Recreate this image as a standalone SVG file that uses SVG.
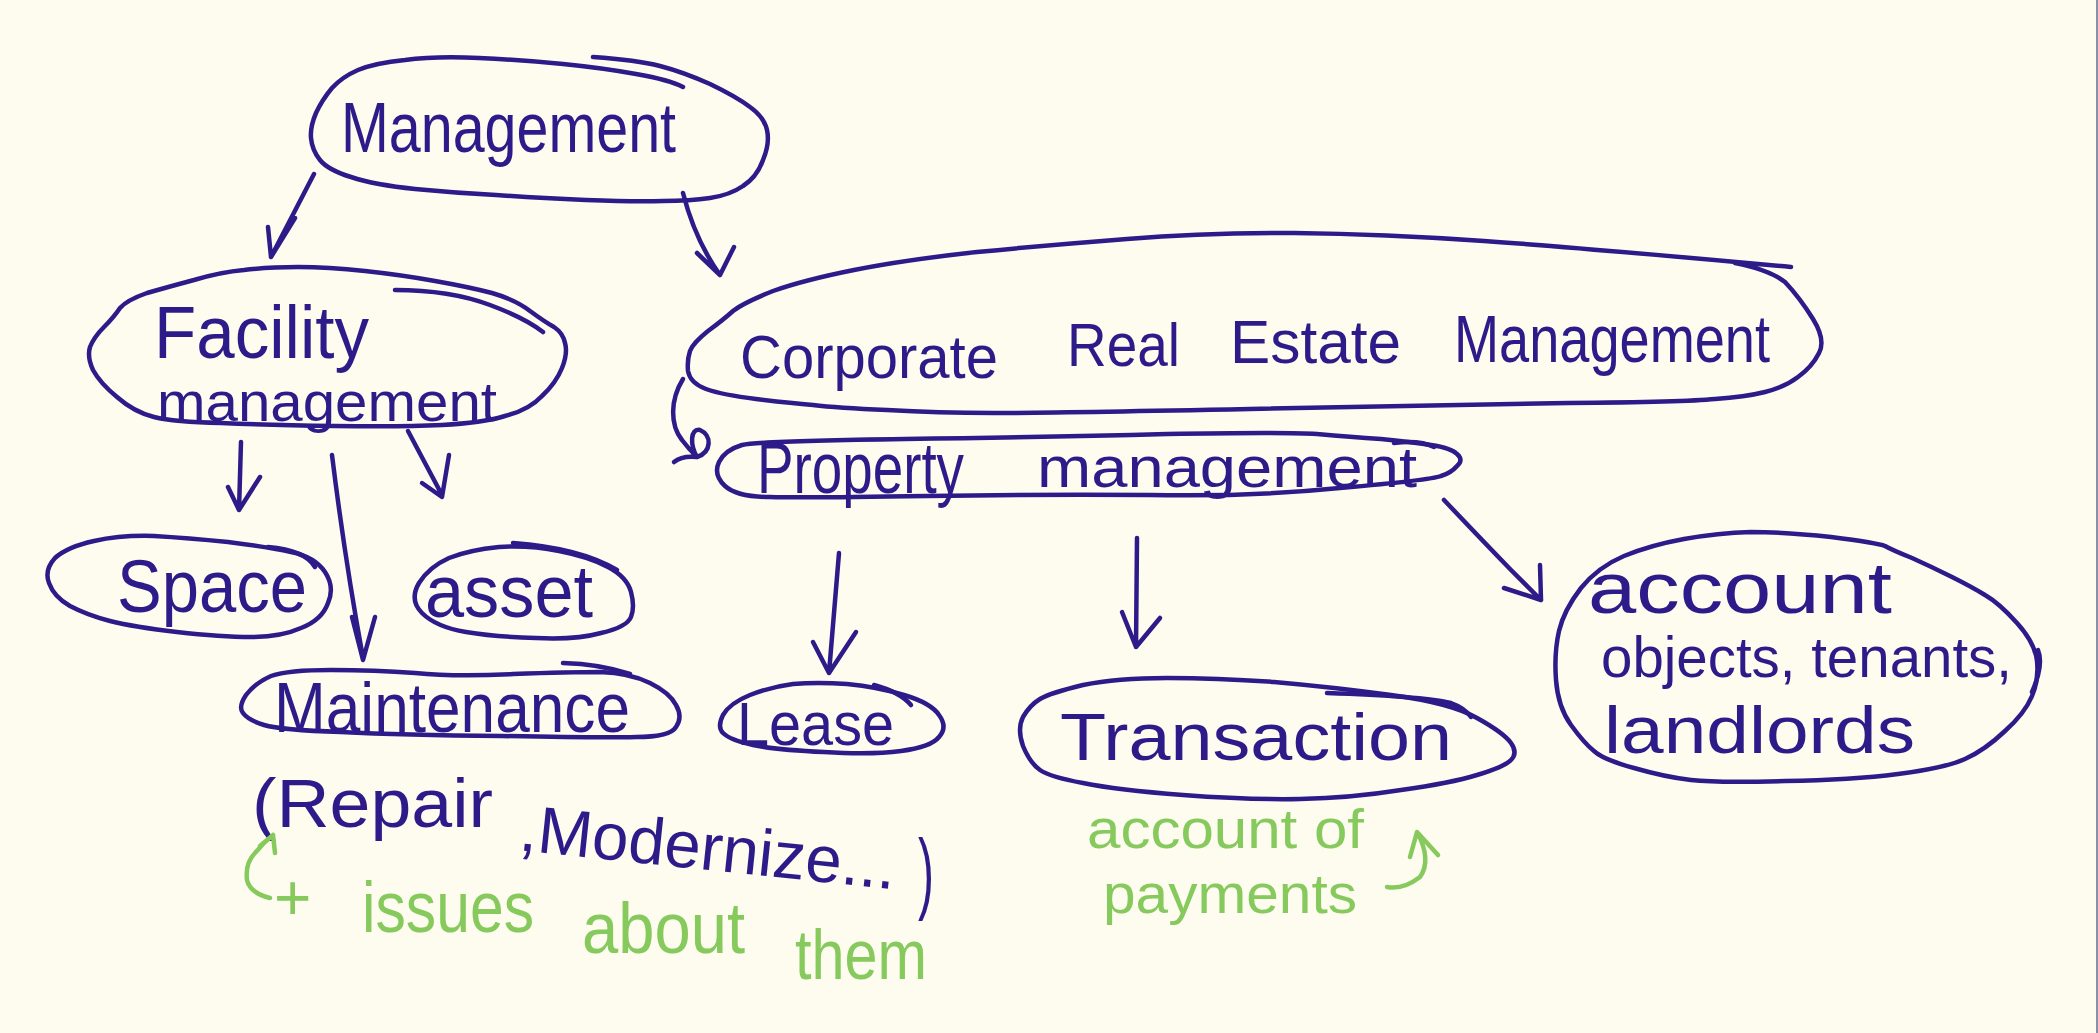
<svg xmlns="http://www.w3.org/2000/svg" width="2098" height="1033" viewBox="0 0 2098 1033">
<style>
.bg{fill:#FEFCEF}
.ol{fill:none;stroke:#2D1B8A;stroke-width:4.5;stroke-linecap:round;stroke-linejoin:round}
.gl{fill:none;stroke:#86C95C;stroke-width:4.5;stroke-linecap:round;stroke-linejoin:round}
.t{font-family:"Liberation Sans",Arial,sans-serif;fill:#2D1B8A}
.g{font-family:"Liberation Sans",Arial,sans-serif;fill:#86C95C}
</style>
<rect class="bg" x="0" y="0" width="2098" height="1033"/>
<rect x="2096" y="0" width="2" height="1033" fill="#8A90A8"/>

<g id="connectors">
  <path class="ol" d="M314,174 L271,257 M268,227 L271,257 L295,218"/>
  <path class="ol" d="M683,193 Q695,240 720,275 M697,253 L720,275 L734,247"/>
  <path class="ol" d="M241,442 L239,510 M228,487 L239,510 L260,477"/>
  <path class="ol" d="M332,455 Q345,560 363,658 M352,617 L363,660 L375,617"/>
  <path class="ol" d="M408,431 L442,495 M422,483 L442,497 L449,455"/>
  <path class="ol" d="M683,379 C670,400 670,425 682,440 C688,448 693,453 697,457 M697,457 C712,452 712,435 700,430 C690,428 690,445 697,457 M697,457 C688,456 680,457 674,462"/>
  <path class="ol" d="M839,553 L829,673 M813,642 L829,673 L856,632"/>
  <path class="ol" d="M1137,538 L1136,647 M1122,612 L1136,647 L1160,618"/>
  <path class="ol" d="M1444,500 Q1480,538 1511,570 L1541,600 M1504,588 L1541,600 L1540,565"/>
</g>

<g id="n-management">
  <path class="ol" d="M683,87 Q670,80 636,74 Q603,68 563,64 Q523,60 479,58 Q435,56 405,60 Q375,63 358,70 Q342,77 332,88 Q322,100 316,113 Q310,127 311,138 Q312,150 320,160 Q328,170 351,177 Q375,185 415,189 Q456,193 496,195 Q536,198 586,200 Q637,202 663,201 Q690,201 710,198 Q730,195 743,186 Q757,177 763,160 Q770,143 767,130 Q764,117 750,107 Q737,97 710,84 Q683,72 660,66 Q637,60 593,57"/>
  <text class="t" x="341" y="152" font-size="70" textLength="335" lengthAdjust="spacingAndGlyphs">Management</text>
</g>

<g id="n-facility">
  <path class="ol" d="M147,293 Q168,287 194,280 Q221,272 244,270 Q268,267 298,267 Q328,267 365,271 Q402,275 435,281 Q469,287 492,293 Q516,300 530,311 Q545,322 554,327 Q563,333 565,343 Q568,353 562,368 Q556,383 542,396 Q529,410 505,416 Q482,423 442,425 Q402,427 335,426 Q268,425 221,423 Q174,422 154,417 Q134,412 117,397 Q100,383 93,370 Q87,357 90,347 Q94,337 104,327 Q114,317 120,308 Q127,300 147,293 Z"/>
  <path class="ol" d="M395,290 Q450,290 490,305 Q525,318 543,332"/>
  <text class="t" x="154" y="358" font-size="74" textLength="215" lengthAdjust="spacingAndGlyphs">Facility</text>
  <text class="t" x="157" y="421" font-size="56" textLength="340" lengthAdjust="spacingAndGlyphs">management</text>
</g>

<g id="n-space">
  <path class="ol" d="M49,583 Q44,570 55,558 Q67,547 94,541 Q121,535 154,536 Q188,538 228,542 Q268,547 291,552 Q315,557 325,572 Q335,587 328,603 Q322,620 301,628 Q281,637 251,637 Q221,637 177,632 Q134,627 110,621 Q87,615 70,606 Q54,597 49,583 Z"/>
  <path class="ol" d="M268,547 Q305,550 315,567"/>
  <text class="t" x="117" y="612" font-size="74" textLength="190" lengthAdjust="spacingAndGlyphs">Space</text>
</g>

<g id="n-asset">
  <path class="ol" d="M422,613 Q409,600 419,583 Q429,567 449,558 Q469,550 499,547 Q529,545 559,551 Q590,557 608,567 Q627,577 631,592 Q635,607 631,617 Q627,627 601,633 Q576,640 536,638 Q496,637 466,632 Q436,627 422,613 Z"/>
  <path class="ol" d="M513,543 Q580,548 617,570"/>
  <text class="t" x="425" y="617" font-size="74" textLength="168" lengthAdjust="spacingAndGlyphs">asset</text>
</g>

<g id="n-maintenance">
  <path class="ol" d="M243,713 Q238,707 246,695 Q255,683 271,676 Q288,670 331,670 Q375,670 415,673 Q456,677 513,674 Q570,672 600,672 Q630,673 650,683 Q670,693 676,705 Q683,717 676,727 Q670,737 636,737 Q603,738 502,736 Q402,735 341,732 Q281,730 264,725 Q248,720 243,713 Z"/>
  <path class="ol" d="M563,663 Q600,664 630,674"/>
  <text class="t" x="274" y="732" font-size="70" textLength="356" lengthAdjust="spacingAndGlyphs">Maintenance</text>
</g>

<g id="note-maintenance">
  <text class="t" x="252" y="827" font-size="68" textLength="241" lengthAdjust="spacingAndGlyphs">(Repair</text>
  <text class="t" x="518" y="850" font-size="66" textLength="378" lengthAdjust="spacingAndGlyphs" transform="rotate(6 518 850)">,Modernize...</text>
  <text class="t" x="0" y="0" font-size="64" transform="translate(918 902) scale(0.75 1.4)">)</text>
  <path class="gl" d="M270,898 Q250,893 247,880 Q245,863 255,853 Q263,843 273,835 M260,846 L273,835 L275,853"/>
  <text class="g" x="274" y="920" font-size="64">+</text>
  <text class="g" x="362" y="932" font-size="72" textLength="172" lengthAdjust="spacingAndGlyphs">issues</text>
  <text class="g" x="582" y="953" font-size="72" textLength="163" lengthAdjust="spacingAndGlyphs">about</text>
  <text class="g" x="795" y="979" font-size="70" textLength="132" lengthAdjust="spacingAndGlyphs">them</text>
</g>

<g id="n-crem">
  <path class="ol" d="M1791,267 Q1584,248 1484,241 Q1384,234 1294,233 Q1204,233 1127,239 Q1050,245 977,252 Q904,260 854,270 Q804,280 773,291 Q743,303 733,311 Q723,320 708,331 Q693,343 690,351 Q687,360 688,371 Q690,383 706,389 Q723,395 756,399 Q790,403 813,405 Q837,408 887,410 Q938,413 994,413 Q1050,413 1250,409 Q1451,405 1568,403 Q1685,402 1715,399 Q1745,397 1765,392 Q1785,387 1798,377 Q1812,367 1819,353 Q1826,340 1813,319 Q1800,298 1785,282 Q1770,270 1735,263"/>
  <text class="t" x="740" y="378" font-size="62" textLength="258" lengthAdjust="spacingAndGlyphs">Corporate</text>
  <text class="t" x="1067" y="366" font-size="62" textLength="113" lengthAdjust="spacingAndGlyphs">Real</text>
  <text class="t" x="1230" y="363" font-size="62" textLength="171" lengthAdjust="spacingAndGlyphs">Estate</text>
  <text class="t" x="1454" y="362" font-size="66" textLength="316" lengthAdjust="spacingAndGlyphs">Management</text>
</g>

<g id="n-property">
  <path class="ol" d="M725,486 Q713,475 719,462 Q725,450 742,445 Q760,441 905,439 Q1050,437 1167,434 Q1284,432 1317,434 Q1351,437 1381,439 Q1411,442 1431,445 Q1451,448 1457,454 Q1464,460 1457,466 Q1451,473 1441,476 Q1431,480 1340,488 Q1250,497 1150,495 Q1050,494 927,496 Q804,498 770,497 Q737,497 725,486 Z"/>
  <path class="ol" d="M1394,443 Q1420,440 1434,447"/>
  <text class="t" x="757" y="493" font-size="72" textLength="207" lengthAdjust="spacingAndGlyphs">Property</text>
  <text class="t" x="1037" y="487" font-size="58" textLength="380" lengthAdjust="spacingAndGlyphs">management</text>
</g>

<g id="n-lease">
  <path class="ol" d="M723,733 Q717,727 723,715 Q730,703 750,695 Q770,687 793,684 Q817,682 847,684 Q878,687 904,695 Q931,703 939,715 Q948,727 939,737 Q931,747 901,751 Q871,755 824,752 Q777,750 753,745 Q730,740 723,733 Z"/>
  <path class="ol" d="M874,685 Q900,692 911,705"/>
  <text class="t" x="737" y="745" font-size="62" textLength="157" lengthAdjust="spacingAndGlyphs">Lease</text>
</g>

<g id="n-transaction">
  <path class="ol" d="M1023,746 Q1017,729 1023,717 Q1030,705 1040,699 Q1050,693 1083,685 Q1117,678 1167,678 Q1217,678 1274,682 Q1331,687 1391,695 Q1451,703 1477,718 Q1504,733 1511,743 Q1518,753 1511,760 Q1504,767 1477,775 Q1451,783 1401,790 Q1351,798 1300,799 Q1250,800 1183,795 Q1117,790 1083,783 Q1050,777 1040,770 Q1030,763 1023,746 Z"/>
  <path class="ol" d="M1327,693 Q1420,696 1451,703 Q1465,708 1471,717"/>
  <text class="t" x="1060" y="760" font-size="66" textLength="392" lengthAdjust="spacingAndGlyphs">Transaction</text>
</g>

<g id="note-transaction">
  <text class="g" x="1087" y="848" font-size="56" textLength="277" lengthAdjust="spacingAndGlyphs">account of</text>
  <text class="g" x="1103" y="913" font-size="56" textLength="254" lengthAdjust="spacingAndGlyphs">payments</text>
  <path class="gl" d="M1387,887 Q1403,890 1420,877 Q1432,860 1417,832 M1410,857 L1417,832 L1438,855"/>
</g>

<g id="n-account">
  <path class="ol" d="M1885,546 Q1878,543 1831,537 Q1785,532 1751,532 Q1718,533 1684,539 Q1651,545 1624,556 Q1598,567 1581,588 Q1564,610 1559,631 Q1554,653 1556,680 Q1558,707 1571,725 Q1584,743 1594,751 Q1604,760 1634,768 Q1665,777 1691,780 Q1718,783 1785,781 Q1852,780 1898,774 Q1945,768 1965,759 Q1985,750 2005,731 Q2025,713 2032,696 Q2039,680 2037,661 Q2035,643 2017,623 Q1999,603 1985,595 Q1972,587 1952,577 Q1932,567 1912,558 Q1892,550 1885,546 Z"/>
  <path class="ol" d="M2038,650 Q2044,665 2032,692"/>
  <text class="t" x="1588" y="613" font-size="72" textLength="304" lengthAdjust="spacingAndGlyphs">account</text>
  <text class="t" x="1601" y="677" font-size="58" textLength="411" lengthAdjust="spacingAndGlyphs">objects, tenants,</text>
  <text class="t" x="1604" y="753" font-size="66" textLength="311" lengthAdjust="spacingAndGlyphs">landlords</text>
</g>
</svg>
